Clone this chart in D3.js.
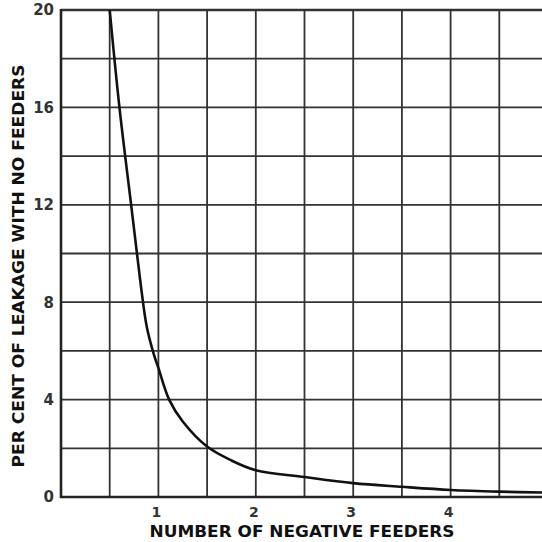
<!DOCTYPE html>
<html>
<head>
<meta charset="utf-8">
<script src="https://cdn.jsdelivr.net/npm/d3@7/dist/d3.min.js"></script>
<style>
html,body{margin:0;padding:0;background:#fff;}
svg{display:block;}
</style>
</head>
<body>
<svg id="c" width="542" height="542"></svg>
<script>
// Data
const feeders = [0.5, 0.6, 0.72, 0.81, 0.88, 0.95, 1.0, 1.11, 1.25, 1.5, 1.75, 2.0, 2.5, 3.0, 3.5, 4.0, 4.5, 5.0];
const leakage = [20, 16, 12, 9, 7, 5.9, 5.3, 4, 3.1, 2.07, 1.5, 1.1, 0.82, 0.57, 0.42, 0.29, 0.22, 0.18];
const xTickLabels = [1, 2, 3, 4, 5];
const yTickLabels = [0, 4, 8, 12, 16, 20];
const xGrid = [0.5, 1, 1.5, 2, 2.5, 3, 3.5, 4, 4.5, 5];
const yGrid = [2, 4, 6, 8, 10, 12, 14, 16, 18, 20];
const xTitle = "NUMBER OF NEGATIVE FEEDERS";
const yTitle = "PER CENT OF LEAKAGE WITH NO FEEDERS";

const svg = d3.select("#c");
const x = d3.scaleLinear().domain([0, 5]).range([61, 548]);
const y = d3.scaleLinear().domain([0, 20]).range([497, 10]);

const font = "'DejaVu Sans', 'Liberation Sans', Arial, sans-serif";
const ink = "#222";

// grid
svg.append("g").selectAll("line").data(xGrid).join("line")
  .attr("x1", d => x(d)).attr("x2", d => x(d))
  .attr("y1", y(20)).attr("y2", y(0))
  .attr("stroke", "#333").attr("stroke-width", 1.8);
svg.append("g").selectAll("line").data(yGrid).join("line")
  .attr("x1", x(0)).attr("x2", 542)
  .attr("y1", d => y(d)).attr("y2", d => y(d))
  .attr("stroke", "#333").attr("stroke-width", d => d === 20 ? 2.4 : 1.8);

// axes lines
svg.append("line").attr("x1", x(0)).attr("x2", x(0)).attr("y1", y(20) - 1).attr("y2", y(0) + 1)
  .attr("stroke", ink).attr("stroke-width", 2.6);
svg.append("line").attr("x1", x(0) - 1).attr("x2", 542).attr("y1", y(0)).attr("y2", y(0))
  .attr("stroke", ink).attr("stroke-width", 2.6);

// tick labels
svg.append("g").selectAll("text").data(yTickLabels).join("text")
  .attr("x", 54).attr("y", d => y(d)).attr("dy", "0.36em")
  .attr("text-anchor", "end")
  .attr("font-family", font).attr("font-weight", "bold").attr("font-size", 15)
  .attr("fill", "#333").text(d => d);
svg.append("g").selectAll("text").data(xTickLabels).join("text")
  .attr("x", d => x(d) - 2).attr("y", 517)
  .attr("text-anchor", "middle")
  .attr("font-family", font).attr("font-weight", "bold").attr("font-size", 14)
  .attr("fill", "#333").text(d => d);

// titles
svg.append("text").attr("x", 302).attr("y", 537)
  .attr("text-anchor", "middle")
  .attr("font-family", font).attr("font-weight", "bold").attr("font-size", 16)
  .attr("textLength", 305).attr("lengthAdjust", "spacingAndGlyphs")
  .attr("fill", "#111").text(xTitle);
svg.append("text").attr("transform", "translate(24,266) rotate(-90)")
  .attr("text-anchor", "middle")
  .attr("font-family", font).attr("font-weight", "bold").attr("font-size", 16)
  .attr("textLength", 403).attr("lengthAdjust", "spacingAndGlyphs")
  .attr("fill", "#111").text(yTitle);

// curve
const pts = feeders.map((f, i) => [f, leakage[i]]);
const line = d3.line().x(d => x(d[0])).y(d => y(d[1])).curve(d3.curveCatmullRom.alpha(0.5));
svg.append("path").attr("d", line(pts))
  .attr("fill", "none").attr("stroke", "#111").attr("stroke-width", 2.6);
</script>
</body>
</html>
